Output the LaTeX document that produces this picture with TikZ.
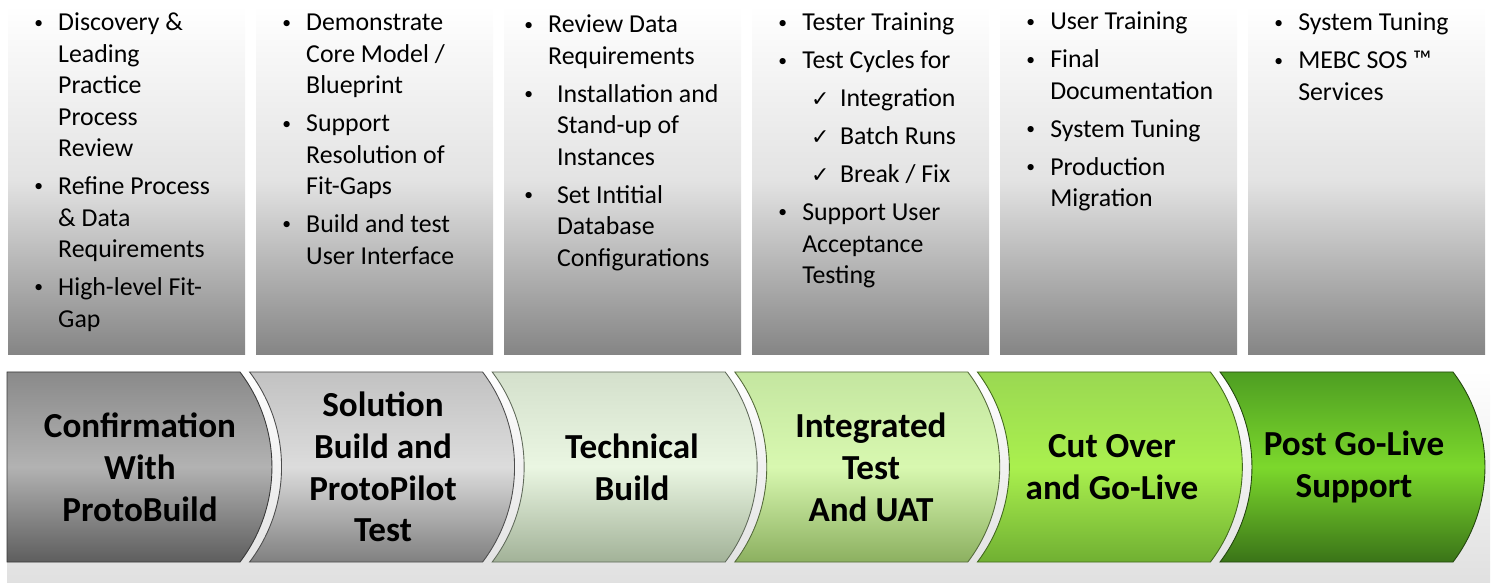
\documentclass[tikz,border=0pt]{standalone}
\usepackage{fontspec}
\setmainfont{Carlito}
\newfontfamily\symfont{DejaVu Sans}
\usepackage{xcolor}
\usepackage{tikz}

\definecolor{grayA}{HTML}{8A8A8A}
\definecolor{grayAm}{HTML}{B2B2B2}
\definecolor{grayAb}{HTML}{5E5E5E}
\definecolor{grayB}{HTML}{C2C2C2}
\definecolor{grayBm}{HTML}{DCDCDC}
\definecolor{grayBb}{HTML}{808080}
\definecolor{sageC}{HTML}{D4E0CC}
\definecolor{sageCm}{HTML}{EAF6E2}
\definecolor{sageCb}{HTML}{A2B298}
\definecolor{limeD}{HTML}{C4E6A0}
\definecolor{limeDm}{HTML}{D8F8B0}
\definecolor{limeDb}{HTML}{8CB060}
\definecolor{limeE}{HTML}{9AD852}
\definecolor{limeEm}{HTML}{AAF04E}
\definecolor{limeEb}{HTML}{70B032}
\definecolor{leafF}{HTML}{4E9E22}
\definecolor{leafFm}{HTML}{7CD82C}
\definecolor{leafFb}{HTML}{3A7418}

\newcommand{\bul}{\makebox[13.6pt][l]{\raisebox{1.6pt}{\fontsize{10}{10}\selectfont\textbullet}}}
\newcommand{\chk}{\makebox[21.5pt][l]{\hspace{5pt}{\symfont\fontsize{12.5}{12.5}\selectfont ✓}}}

\begin{document}
\begin{tikzpicture}[
  x=0.02cm, y=0.02cm,
  every node/.style={inner sep=0pt},
  taskbox/.style={top color=white, bottom color=black!48, middle color=black!11},
  tasks/.style={anchor=base west, align=left, font=\fontsize{14.7}{17.9}\selectfont},
  phase/.style={draw=#1!60!black, line width=0.5pt},
  phasetext/.style={align=center, font=\bfseries\fontsize{20}{23.8}\selectfont}
]
\useasboundingbox (0,0) rectangle (1492,582);

% band under the phases
\shade[top color=white, bottom color=black!12] (7,0) rectangle (1490,212);

% task columns
\shade[taskbox] (8,227) rectangle (245,577);
\shade[taskbox] (256,227) rectangle (493,577);
\shade[taskbox] (504,227) rectangle (741,577);
\shade[taskbox] (752,227) rectangle (989,577);
\shade[taskbox] (1000,227) rectangle (1237,577);
\shade[taskbox] (1248,227) rectangle (1485,577);

\node[tasks] (confirm) at (34,551) {\begin{tabular}[t]{@{}l@{}l@{}}
\bul & Discovery \& \\ & Leading \\ & Practice \\ & Process \\ & Review \\[3.7pt]
\bul & Refine Process \\ & \& Data \\ & Requirements \\[3.7pt]
\bul & High-level Fit- \\ & Gap
\end{tabular}};

\node[tasks] (solution) at (282,551) {\begin{tabular}[t]{@{}l@{}l@{}}
\bul & Demonstrate \\ & Core Model / \\ & Blueprint \\[3.7pt]
\bul & Support \\ & Resolution of \\ & Fit-Gaps \\[3.7pt]
\bul & Build and test \\ & User Interface
\end{tabular}};

\node[tasks] (technical) at (524,549) {\begin{tabular}[t]{@{}l@{}l@{}}
\bul & Review Data \\ & Requirements \\[3.7pt]
\bul & \hspace{5pt}Installation and \\ & \hspace{5pt}Stand-up of \\ & \hspace{5pt}Instances \\[3.7pt]
\bul & \hspace{5pt}Set Intitial \\ & \hspace{5pt}Database \\ & \hspace{5pt}Configurations
\end{tabular}};

\node[tasks] (integrated) at (778,551) {\begin{tabular}[t]{@{}l@{}l@{}}
\bul & Tester Training \\[3.7pt]
\bul & Test Cycles for \\[3.7pt]
 & \chk Integration \\[3.7pt]
 & \chk Batch Runs \\[3.7pt]
 & \chk Break / Fix \\[3.7pt]
\bul & Support User \\ & Acceptance \\ & Testing
\end{tabular}};

\node[tasks] (cutover) at (1026,552) {\begin{tabular}[t]{@{}l@{}l@{}}
\bul & User Training \\[3.7pt]
\bul & Final \\ & Documentation \\[3.7pt]
\bul & System Tuning \\[3.7pt]
\bul & Production \\ & Migration
\end{tabular}};

\node[tasks] (support) at (1274,551) {\begin{tabular}[t]{@{}l@{}l@{}}
\bul & System Tuning \\[3.7pt]
\bul & MEBC SOS ™ \\ & Services
\end{tabular}};

% phases
\shade[phase=grayAb, top color=grayA, bottom color=grayAb, middle color=grayAm]
  (7,210) -- (240,210) .. controls (282.6,153.9) and (282.6,76.1) .. (240,20)
  -- (7,20) -- cycle;
\shade[phase=grayBb, top color=grayB, bottom color=grayBb, middle color=grayBm]
  (249.6,210) -- (482.6,210) .. controls (525.2,153.9) and (525.2,76.1) .. (482.6,20)
  -- (249.6,20) .. controls (292.2,76.1) and (292.2,153.9) .. cycle;
\shade[phase=sageCb, top color=sageC, bottom color=sageCb, middle color=sageCm]
  (492.2,210) -- (725.2,210) .. controls (767.8,153.9) and (767.8,76.1) .. (725.2,20)
  -- (492.2,20) .. controls (534.8,76.1) and (534.8,153.9) .. cycle;
\shade[phase=limeDb, top color=limeD, bottom color=limeDb, middle color=limeDm]
  (734.8,210) -- (967.8,210) .. controls (1010.4,153.9) and (1010.4,76.1) .. (967.8,20)
  -- (734.8,20) .. controls (777.4,76.1) and (777.4,153.9) .. cycle;
\shade[phase=limeEb, top color=limeE, bottom color=limeEb, middle color=limeEm]
  (977.4,210) -- (1210.4,210) .. controls (1253,153.9) and (1253,76.1) .. (1210.4,20)
  -- (977.4,20) .. controls (1020,76.1) and (1020,153.9) .. cycle;
\shade[phase=leafFb, top color=leafF, bottom color=leafFb, middle color=leafFm]
  (1220,210) -- (1453,210) .. controls (1495.6,153.9) and (1495.6,76.1) .. (1453,20)
  -- (1220,20) .. controls (1262.6,76.1) and (1262.6,153.9) .. cycle;

\node[phasetext] (p1) at (140,115) {Confirmation\\With\\ProtoBuild};
\node[phasetext] (p2) at (383,115) {Solution\\Build and\\ProtoPilot\\Test};
\node[phasetext] (p3) at (632,115) {Technical\\Build};
\node[phasetext] (p4) at (871,115) {Integrated\\Test\\And UAT};
\node[phasetext] (p5) at (1112,115) {Cut Over\\and Go-Live};
\node[phasetext] (p6) at (1354,115) {Post Go-Live\\Support};
\end{tikzpicture}
\end{document}
